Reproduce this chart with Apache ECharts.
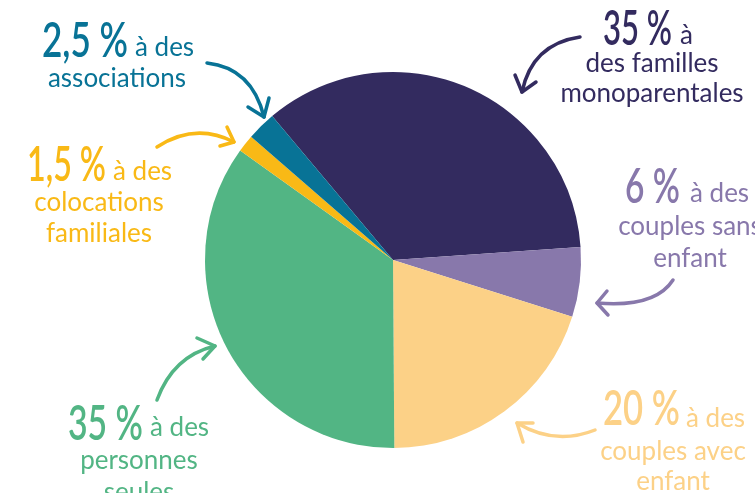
<!DOCTYPE html>
<html><head><meta charset="utf-8">
<script src="https://cdn.jsdelivr.net/npm/echarts@6/dist/echarts.min.js"></script>
<style>html,body{margin:0;padding:0;background:#fff}#c{width:755px;height:493px}</style>
</head><body><div id="c"></div>
<script>
// Data
const categories = ['des familles monoparentales', 'des couples sans enfant', 'des couples avec enfant', 'des personnes seules', 'des colocations familiales', 'des associations'];
const values = [35, 6, 20, 35, 1.5, 2.5];
const percentLabels = ['35 %', '6 %', '20 %', '35 %', '1,5 %', '2,5 %'];
const labelLines = [
  ['à', 'des familles', 'monoparentales'],
  ['à des', 'couples sans', 'enfant'],
  ['à des', 'couples avec', 'enfant'],
  ['à des', 'personnes', 'seules'],
  ['à des', 'colocations', 'familiales'],
  ['à des', 'associations']
];
const colors = ['#332b5f', '#8878ab', '#fcd187', '#52b584', '#f9b916', '#087396'];

// Layout (label placement, not data)
const labelPos = [
  {px: 603, pb: 42, pw: 69, ax: 680, ab: 42, cx: 652, l: [70, 100]},
  {px: 625, pb: 200, pw: 55, ax: 690, ab: 200, cx: 690, l: [233, 265]},
  {px: 603, pb: 422, pw: 77, ax: 686, ab: 425, cx: 673, l: [458, 488]},
  {px: 68, pb: 437, pw: 75, ax: 150, ab: 434, cx: 139, l: [467, 499]},
  {px: 27, pb: 178, pw: 79, ax: 113, ab: 178, cx: 99, l: [209, 240]},
  {px: 42, pb: 54, pw: 86, ax: 135, ab: 54, cx: 117, l: [85]}
];
const arrows = [
  {s: [580, 37], c: [532, 44], e: [522, 92], w1: [515, 75], w2: [536, 82]},
  {s: [673, 280], c: [655, 308], e: [597, 303], w1: [607, 291], w2: [608, 315]},
  {s: [595, 430], c: [555, 446], e: [517, 423], w1: [533, 423], w2: [523, 442]},
  {s: [157, 400], c: [173, 356], e: [215, 346], w1: [197, 338], w2: [203, 359]},
  {s: [157, 147], c: [195, 122], e: [234, 142], w1: [227, 127], w2: [220, 146]},
  {s: [207, 63], c: [252, 68], e: [264, 117], w1: [248, 107], w2: [269, 98]}
];

const pctFontStr = '600 48px Lato, sans-serif';
const txtFont = '26px Lato, "Noto Sans", sans-serif';
const graphics = [];
labelPos.forEach((p, i) => {
  const col = colors[i];
  const w = echarts.format.getTextRect ? echarts.format.getTextRect(percentLabels[i], pctFontStr).width : p.pw;
  const sx = p.pw / w;
  graphics.push({type: 'text', x: p.px, y: p.pb + 12, scaleX: sx, style: {text: percentLabels[i], fill: col, font: pctFontStr, textAlign: 'left', textVerticalAlign: 'bottom'}});
  graphics.push({type: 'text', x: p.ax, y: p.ab + 7, style: {text: labelLines[i][0], fill: col, font: txtFont, textAlign: 'left', textVerticalAlign: 'bottom'}});
  p.l.forEach((b, k) => {
    graphics.push({type: 'text', x: p.cx, y: b + 7, style: {text: labelLines[i][k + 1], fill: col, font: txtFont, textAlign: 'center', textVerticalAlign: 'bottom'}});
  });
  const a = arrows[i];
  graphics.push({type: 'bezierCurve', shape: {x1: a.s[0], y1: a.s[1], cpx1: a.c[0], cpy1: a.c[1], x2: a.e[0], y2: a.e[1]}, style: {stroke: col, lineWidth: 3.5, fill: null, lineCap: 'round'}});
  graphics.push({type: 'polyline', shape: {points: [a.w1, a.e, a.w2]}, style: {stroke: col, lineWidth: 3.5, fill: null, lineCap: 'round', lineJoin: 'round'}});
});

const chart = echarts.init(document.getElementById('c'));
chart.setOption({
  animation: false,
  series: [{
    type: 'pie',
    center: [393, 260],
    radius: 188,
    startAngle: 130,
    clockwise: true,
    label: {show: false},
    labelLine: {show: false},
    itemStyle: {borderWidth: 0},
    emphasis: {disabled: true},
    data: categories.map((n, i) => ({name: n, value: values[i], itemStyle: {color: colors[i]}}))
  }],
  graphic: graphics
});
</script></body></html>
